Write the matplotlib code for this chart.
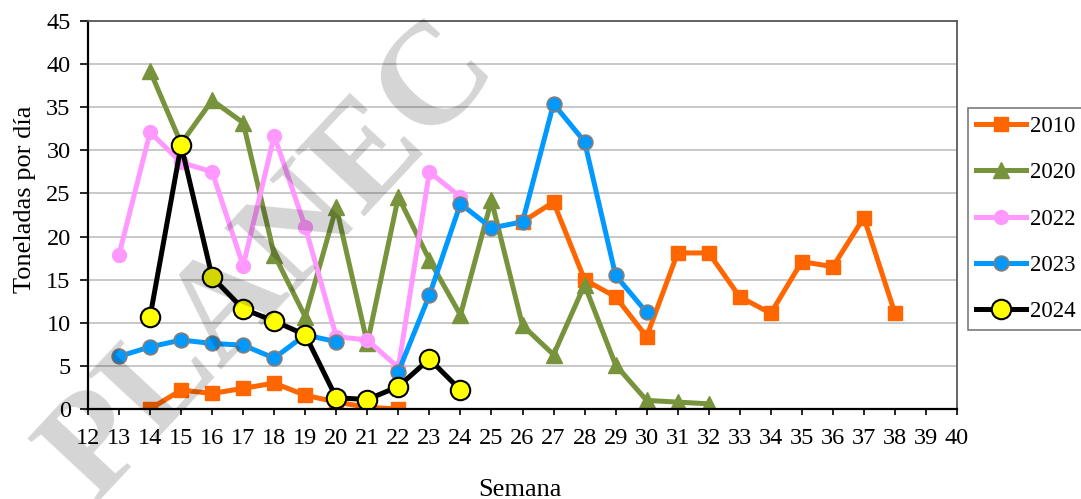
import numpy as np
import matplotlib
matplotlib.use("Agg")
import matplotlib.pyplot as plt

nan = np.nan

# semanas y toneladas por día de cada temporada (nan = sin dato)
sem_2010 = list(range(14, 39))
ton_2010 = [0.0, 2.2, 1.8, 2.4, 3.0, 1.6, 0.8, 0.2, 0.0, nan, nan, nan,
            21.7, 24.0, 15.0, 13.0, 8.4, 18.1, 18.1, 13.0, 11.1, 17.1, 16.5, 22.2, 11.1]

sem_2020 = list(range(14, 33))
ton_2020 = [39.2, 30.8, 35.8, 33.2, 17.9, 10.7, 23.4, 7.6, 24.6, 17.3,
            10.9, 24.2, 9.7, 6.3, 14.4, 5.1, 1.0, 0.8, 0.6]

sem_2022 = list(range(13, 25))
ton_2022 = [17.9, 32.1, 28.6, 27.5, 16.6, 31.7, 21.1, 8.4, 8.0, 4.8, 27.5, 24.6]

sem_2023 = list(range(13, 31))
ton_2023 = [6.1, 7.2, 8.0, 7.6, 7.4, 5.9, 8.6, 7.8, nan, 4.3, 13.2, 23.8,
            21.0, 21.7, 35.4, 31.0, 15.5, 11.2]

sem_2024 = list(range(14, 25))
ton_2024 = [10.7, 30.6, 15.3, 11.6, 10.2, 8.6, 1.3, 1.1, 2.6, 5.8, 2.2]

plt.rcParams['font.family'] = ['Liberation Serif', 'DejaVu Serif']

fig = plt.figure(figsize=(10.81, 4.99), dpi=100)
ax = fig.add_axes([88 / 1081, 90 / 499, 869 / 1081, 388 / 499])

lw = 3.6
ax.plot(sem_2010, ton_2010, color='#FF6600', lw=lw, marker='s', ms=9.5,
        mec='#FF6600', label='2010')
ax.plot(sem_2020, ton_2020, color='#77933C', lw=lw, marker='^', ms=12,
        mec='#77933C', label='2020')
ax.plot(sem_2022, ton_2022, color='#FF99FF', lw=lw, marker='o', ms=10,
        mec='#FF99FF', label='2022')
ax.plot(sem_2023, ton_2023, color='#0099FF', lw=lw, marker='o', ms=10.5,
        mec='#7F7F7F', mew=1.3, label='2023')
ax.plot(sem_2024, ton_2024, color='black', lw=lw, marker='o', ms=14,
        mfc='#FFFF00', mec='black', mew=1.5, label='2024')

ax.set_xlim(12, 40)
ax.set_ylim(0, 45)
ax.set_xticks(range(12, 41))
ax.set_yticks(range(0, 46, 5))
ax.yaxis.grid(True, color='#BFBFBF', lw=1.2)
ax.set_axisbelow(True)

ax.tick_params(axis='x', direction='out', length=4.5, width=1.2, pad=9, labelsize=17.5)
ax.tick_params(axis='y', direction='out', length=5.5, width=1.2, pad=7, labelsize=17.5)
for s in ['left', 'bottom']:
    ax.spines[s].set_color('black')
    ax.spines[s].set_linewidth(1.6)
for s in ['top', 'right']:
    ax.spines[s].set_color('#595959')
    ax.spines[s].set_linewidth(1.3)

ax.set_xlabel('Semana', fontsize=19)
ax.xaxis.set_label_coords(0.497, -0.18)
ax.set_ylabel('Toneladas por día', fontsize=19)
ax.yaxis.set_label_coords(-0.060, 0.54)

leg = fig.legend(loc='upper left', bbox_to_anchor=(968 / 1081, 1 - 108 / 499),
                 fontsize=16.5, frameon=True, fancybox=False, edgecolor='#595959',
                 handlelength=2.2, handletextpad=0.15, labelspacing=1.1,
                 borderpad=0.35, borderaxespad=0)
leg.get_frame().set_linewidth(1.2)

# marca de agua
fig.text(272 / 1081, 236 / 499, 'PLANEC', fontsize=104, fontweight='bold',
         color='black', alpha=0.17, rotation=47, rotation_mode='anchor',
         ha='center', va='center', zorder=10)

fig.savefig('out.png', dpi=100)
